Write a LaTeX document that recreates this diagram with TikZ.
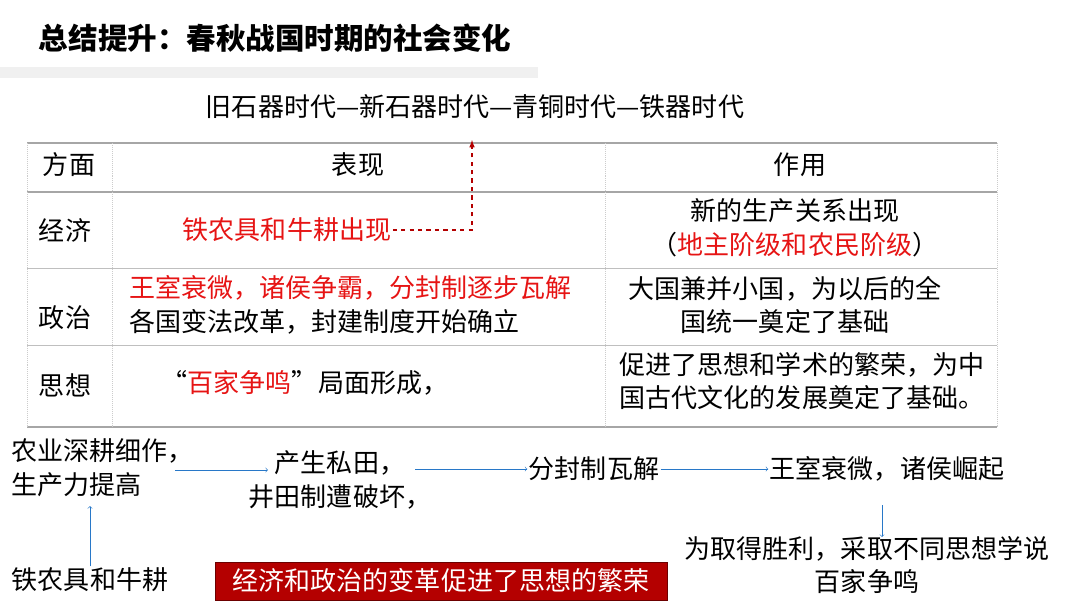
\documentclass[tikz,border=0pt]{standalone}
\usepackage{fontspec}
\setmainfont{Noto Sans CJK SC}
\usetikzlibrary{positioning}
\definecolor{redtxt}{RGB}{230,20,20}
\definecolor{arrowblue}{RGB}{40,120,200}
\definecolor{boxred}{RGB}{180,0,0}
\tikzset{
    txt/.style = {font=\fontsize{18.5}{24}\selectfont, align=center, inner sep=1pt},
    redt/.style = {txt, text=redtxt},
    flow/.style = {->, arrowblue, thin},
    rule/.style = {gray!70, line width=1pt},
}
\begin{document}
\begin{tikzpicture}[x=0.025cm,y=-0.025cm]
  \useasboundingbox (0,0) rectangle (1080,608);
  % --- title
  \node[anchor=west, font=\fontsize{21}{24}\selectfont\bfseries] (title) at (34,38) {总结提升：春秋战国时期的社会变化};
  \fill[gray!12] (0,67) rectangle (538,78);
  % --- timeline
  \node[txt] (ages) at (475,107) {旧石器时代—新石器时代—青铜时代—铁器时代};
  % --- table
  \draw[rule] (27,143) -- (997,143);
  \draw[rule] (27,192) -- (997,192);
  \draw[gray!50] (27,268) -- (997,268);
  \draw[gray!50] (27,345) -- (997,345);
  \draw[rule] (27,427) -- (997,427);
  \foreach \x in {27,112,605,997}
    \draw[gray!40, densely dotted] (\x,143) -- (\x,427);
  \node[txt] (h1) at (69,165) {方面};
  \node[txt] (h2) at (358,165) {表现};
  \node[txt] (h3) at (800,165) {作用};
  \node[txt] (r1) at (65,230) {经济};
  \node[txt] (r2) at (65,318) {政治};
  \node[txt] (r3) at (65,385) {思想};
  \node[redt] (iron) at (287,230) {铁农具和牛耕出现};
  \node[txt] (c1) at (795,228) {新的生产关系出现\\（\textcolor{redtxt}{地主阶级和农民阶级}）};
  \node[txt, align=left, anchor=west] (p1) at (128,305) {\textcolor{redtxt}{王室衰微，诸侯争霸，分封制逐步瓦解}\\各国变法改革，封建制度开始确立};
  \node[txt] (c2) at (785,305) {大国兼并小国，为以后的全\\国统一奠定了基础};
  \node[txt] (p3) at (305,383) {“\textcolor{redtxt}{百家争鸣}”局面形成，};
  \node[txt, align=left] (c3) at (802,381) {促进了思想和学术的繁荣，为中\\国古代文化的发展奠定了基础。};
  % --- dashed link to timeline
  \coordinate (up) at (472,140);
  \draw[boxred, dashed, thick, ->, >=latex] (iron.east) -| (up);
  % --- bottom flow
  \node[txt, align=left, anchor=west] (f1) at (10,468) {农业深耕细作，\\生产力提高};
  \node[txt] (f2) at (340,480) {产生私田，\\井田制遭破坏，};
  \node[txt] (f3) at (594,469) {分封制瓦解};
  \node[txt] (f4) at (887,469) {王室衰微，诸侯崛起};
  \node[txt] (f5) at (867,565) {为取得胜利，采取不同思想学说\\百家争鸣};
  \node[txt] (f0) at (90,580) {铁农具和牛耕};
  \draw[flow] (175,470) -- (268,470);
  \draw[flow] (415,469) -- (f3.west);
  \draw[flow] (f3.east) -- (f4.west);
  \draw[flow] (882,505) -- (882,537);
  \draw[flow] (f0.north) -- (90,506);
  % --- red banner
  \node[draw=boxred!60!black, fill=boxred, text=white, font=\fontsize{18.5}{22}\selectfont, minimum width=11.3cm, minimum height=0.95cm, inner xsep=4pt] (banner) at (441,581) {经济和政治的变革促进了思想的繁荣};
\end{tikzpicture}
\end{document}
